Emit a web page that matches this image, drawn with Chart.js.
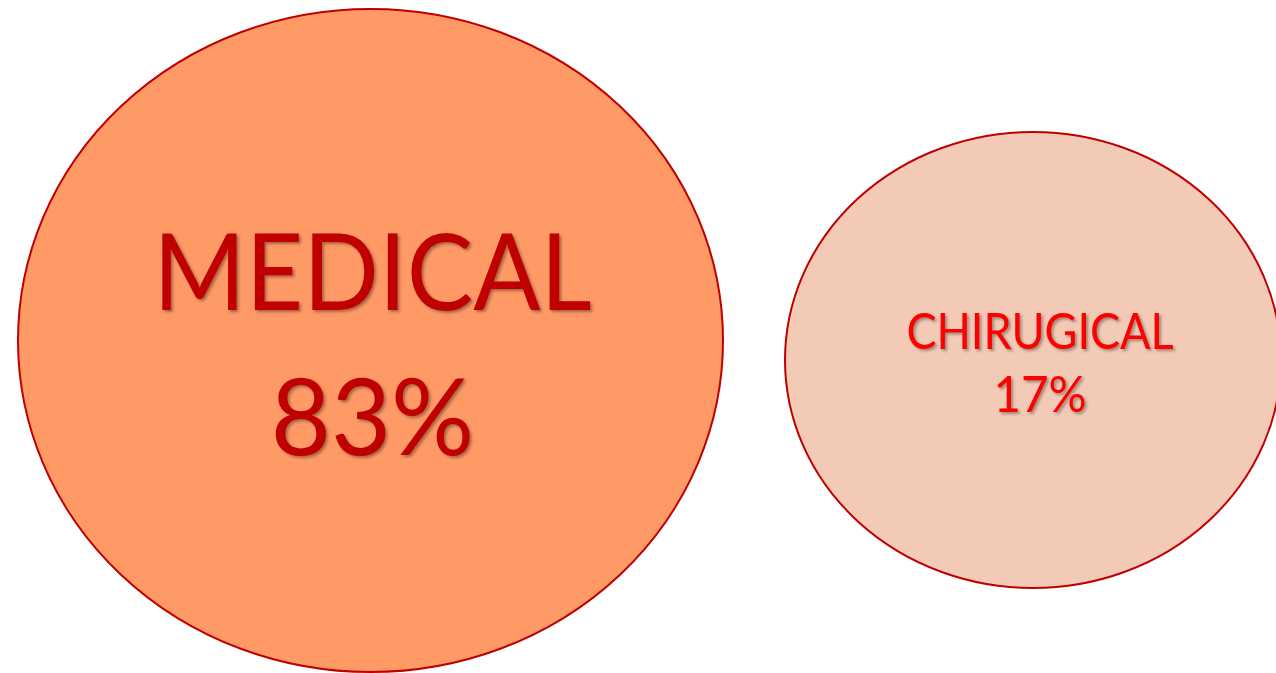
<!DOCTYPE html>
<html>
<head>
<meta charset="utf-8">
<script src="https://cdn.jsdelivr.net/npm/chart.js@4"></script>
<style>
  html, body { margin: 0; padding: 0; background: #ffffff; }
  canvas { display: block; }
</style>
</head>
<body>
<canvas id="share_chart" width="1276" height="673"></canvas>
<script>
// Share of cases by type
const categories = ['MEDICAL', 'CHIRUGICAL'];
const shares = [83, 17];

// Ellipse placement on a 1276 x 673 grid (center x, center y, radius x, radius y)
const centersX = [370.5, 1033];
const centersY = [340.5, 360];
const radiiX = [352.5, 248];
const radiiY = [331.5, 228];

const fills = ['#ff9966', '#f3cab5'];
const textColors = ['#c00000', '#ff0000'];
const fontSizes = [107, 50];
// horizontal squeeze for the name line and the percent line
const nameSqueeze = [0.93, 0.9];
const pctSqueeze = [0.97, 0.95];
// label offsets from the ellipse center: x shift, name baseline, percent baseline
const labelDx = [2, 7];
const nameDy = [-30.5, -11];
const pctDy = [114.5, 52];

const ellipsePlugin = {
  id: 'ellipses',
  beforeDatasetsDraw(chart) {
    const ctx = chart.ctx;
    const xs = chart.scales.x;
    const ys = chart.scales.y;
    const meta = chart.getDatasetMeta(0);
    meta.data.forEach((pt, i) => {
      const rx = Math.abs(xs.getPixelForValue(centersX[i] + radiiX[i]) - pt.x);
      const ry = Math.abs(ys.getPixelForValue(centersY[i] + radiiY[i]) - pt.y);
      ctx.save();
      ctx.beginPath();
      ctx.ellipse(pt.x, pt.y, rx, ry, 0, 0, Math.PI * 2);
      ctx.fillStyle = fills[i];
      ctx.fill();
      ctx.lineWidth = 2;
      ctx.strokeStyle = '#c00000';
      ctx.stroke();
      ctx.restore();
    });
  },
  afterDatasetsDraw(chart) {
    const ctx = chart.ctx;
    const meta = chart.getDatasetMeta(0);
    const drawLine = (text, x, y, sx) => {
      ctx.save();
      ctx.translate(x, y);
      ctx.scale(sx, 1);
      ctx.fillText(text, 0, 0);
      ctx.restore();
    };
    meta.data.forEach((pt, i) => {
      ctx.save();
      ctx.font = fontSizes[i] + 'px Lato';
      ctx.textAlign = 'center';
      ctx.textBaseline = 'alphabetic';
      ctx.fillStyle = textColors[i];
      ctx.shadowColor = 'rgba(0, 0, 0, 0.35)';
      ctx.shadowBlur = 3;
      ctx.shadowOffsetX = 2;
      ctx.shadowOffsetY = 2;
      const pct = chart.data.datasets[0].data[i].v + '%';
      drawLine(categories[i], pt.x + labelDx[i], pt.y + nameDy[i], nameSqueeze[i]);
      drawLine(pct, pt.x + labelDx[i], pt.y + pctDy[i], pctSqueeze[i]);
      ctx.restore();
    });
  }
};

const ctx = document.getElementById('share_chart');
new Chart(ctx, {
  type: 'scatter',
  data: {
    datasets: [{
      label: 'Share',
      data: categories.map((c, i) => ({ x: centersX[i], y: centersY[i], v: shares[i] })),
      pointRadius: 0,
      pointHoverRadius: 0
    }]
  },
  options: {
    responsive: false,
    animation: false,
    layout: { padding: 0 },
    scales: {
      x: { type: 'linear', min: 0, max: 1276, display: false },
      y: { type: 'linear', min: 0, max: 673, reverse: true, display: false }
    },
    plugins: {
      legend: { display: false },
      tooltip: { enabled: false }
    }
  },
  plugins: [ellipsePlugin]
});
</script>
</body>
</html>
